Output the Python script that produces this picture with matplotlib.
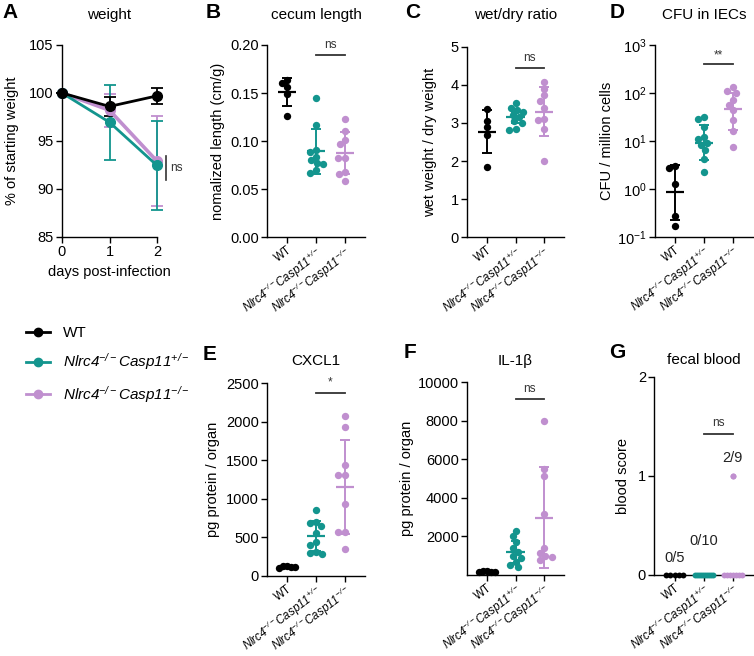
import numpy as np
import matplotlib
matplotlib.use("Agg")
import matplotlib.pyplot as plt
from matplotlib.lines import Line2D
from matplotlib.ticker import NullLocator, FixedLocator

plt.rcParams['font.family'] = ['Liberation Sans', 'DejaVu Sans']
plt.rcParams['mathtext.fontset'] = 'custom'
plt.rcParams['mathtext.rm'] = 'Liberation Sans:italic'
plt.rcParams['mathtext.it'] = 'Liberation Sans:italic'
plt.rcParams['mathtext.sf'] = 'Liberation Sans'
plt.rcParams['mathtext.bf'] = 'Liberation Sans:bold'
plt.rcParams['axes.linewidth'] = 1.0

# ---------------- data ----------------
groups = ["WT", r"$\mathrm{Nlrc4}^{-/-}\mathrm{Casp11}^{+/-}$", r"$\mathrm{Nlrc4}^{-/-}\mathrm{Casp11}^{-/-}$"]
colors = ["#000000", "#13958e", "#c08fcf"]

A_days = [0, 1, 2]
A_wt_mean = [100, 98.6, 99.7]
A_wt_sd = [0, 0.95, 0.85]
A_het_mean = [100, 96.95, 92.45]
A_het_sd = [0, 3.9, 4.65]
A_ko_mean = [100, 98.2, 92.9]
A_ko_sd = [0, 1.7, 4.7]

B_wt = [0.1635, 0.160, 0.156, 0.1487, 0.1265]
B_het = [0.145, 0.117, 0.091, 0.089, 0.084, 0.080, 0.077, 0.076, 0.070, 0.067]
B_ko = [0.123, 0.1106, 0.1012, 0.0967, 0.0822, 0.0822, 0.0683, 0.0655, 0.0586]
B_mean = [0.151, 0.0896, 0.0876]
B_sd = [0.0145, 0.0235, 0.0215]

C_wt = [3.357, 3.058, 2.885, 2.683, 1.852]
C_het = [3.52, 3.40, 3.35, 3.30, 3.22, 3.15, 3.05, 3.00, 2.85, 2.82]
C_ko = [4.08, 3.90, 3.72, 3.58, 3.40, 3.10, 3.08, 2.85, 2.00]
C_mean = [2.77, 3.15, 3.30]
C_sd = [0.57, 0.15, 0.63]

D_wt = [3.0, 2.66, 1.25, 0.27, 0.17]
D_het = [32, 28, 19, 12, 11, 9, 8, 6.4, 4.1, 2.2]
D_ko = [130, 110, 100, 71, 55, 43, 27, 16, 7.3]
D_gmean = [0.85, 9.1, 46]
D_low = [0.22, 4.0, 17]
D_high = [3.2, 21, 98]

E_wt = [130, 120, 115, 110, 105]
E_het = [850, 700, 690, 640, 560, 440, 400, 310, 290, 280]
E_ko = [2076, 1937, 1439, 1309, 1309, 932, 568, 568, 346]
E_mean = [116, 516, 1157]
E_sd = [10, 190, 610]

F_wt = [220, 190, 170, 150, 130]
F_het = [2300, 2000, 1700, 1400, 1200, 1000, 900, 700, 500, 400]
F_ko = [8000, 5500, 5150, 3150, 1400, 1150, 1000, 950, 800]
F_mean = [172, 1210, 2975]
F_sd = [35, 580, 2620]

G_wt = [0, 0, 0, 0, 0]
G_het = [0, 0, 0, 0, 0, 0, 0, 0, 0, 0]
G_ko = [1, 1, 0, 0, 0, 0, 0, 0, 0]
G_frac = ["0/5", "0/10", "2/9"]

# ---------------- figure ----------------
W, H = 754, 656
fig = plt.figure(figsize=(W / 100, H / 100), dpi=100)
TL = 8.3   # group label size
ROT = 37   # group label rotation


def make_ax(left, top, bottom, width):
    return fig.add_axes([left / W, 1 - bottom / H, width / W, (bottom - top) / H])


def style(ax):
    ax.spines['top'].set_visible(False)
    ax.spines['right'].set_visible(False)
    ax.tick_params(direction='out', length=4, width=1.0, labelsize=10.5, pad=2)


def group_labels(ax):
    ax.set_xticks([1, 2, 3])
    ax.set_xticklabels(groups, rotation=ROT, ha='right', va='top', rotation_mode='anchor', fontsize=TL)
    ax.tick_params(axis='x', pad=1.0)


def swarm_offsets(ax, xc, vals, d_px):
    pts = ax.transData.transform(np.column_stack([np.full(len(vals), xc), vals]))
    ys = pts[:, 1]
    ppx = ax.transData.transform([[1, 0]])[0, 0] - ax.transData.transform([[0, 0]])[0, 0]
    placed = []
    offs = np.zeros(len(vals))
    for i in np.argsort(-ys):
        y = ys[i]
        cands = [0.0]
        for (px, py) in placed:
            dy = abs(py - y)
            if dy < d_px:
                dx = np.sqrt(d_px ** 2 - dy ** 2)
                cands += [px + dx, px - dx]
        cands = sorted(cands, key=lambda c: (abs(c), c))
        for c in cands:
            ok = all((c - px) ** 2 + (y - py) ** 2 >= d_px ** 2 - 1e-6 for (px, py) in placed)
            if ok:
                placed.append((c, y))
                offs[i] = c / ppx
                break
    return offs


def scatter_panel(ax, data, means, lo, hi, ylim, log=False, dlist=(6.5, 6.5, 6.5)):
    ax.set_xlim(0.3, 3.7)
    if log:
        ax.set_yscale('log')
    ax.set_ylim(*ylim)
    for i, (vals, c) in enumerate(zip(data, colors)):
        xc = i + 1
        offs = swarm_offsets(ax, xc, vals, dlist[i])
        ax.scatter(xc + offs, vals, s=28, color=c, zorder=3, linewidths=0, clip_on=False)
        ax.hlines(means[i], xc - 0.32, xc + 0.32, color=c, lw=1.6, zorder=4)
        ax.vlines(xc, lo[i], hi[i], color=c, lw=1.4, zorder=4)
        ax.hlines([lo[i], hi[i]], xc - 0.17, xc + 0.17, color=c, lw=1.4, zorder=4)
    style(ax)
    group_labels(ax)


def bracket(ax, y, text, ty):
    ax.plot([2, 3], [y, y], color='#333333', lw=1.3, clip_on=False)
    ax.text(2.5, ty, text, ha='center', va='bottom', fontsize=8.5, color='#333333')


# Panel A
axA = make_ax(62, 45, 237, 95)
axA.set_xlim(0, 2)
axA.set_ylim(85, 105)
for m, sd, c, lw in [(A_ko_mean, A_ko_sd, colors[2], 2.6), (A_het_mean, A_het_sd, colors[1], 2.0),
                     (A_wt_mean, A_wt_sd, colors[0], 2.0)]:
    axA.errorbar(A_days, m, yerr=sd, color=c, lw=lw, marker='o', ms=7, capsize=4, capthick=1.3,
                 elinewidth=1.3, clip_on=False, zorder=3)
axA.set_xticks([0, 1, 2])
axA.set_yticks([85, 90, 95, 100, 105])
axA.set_xlabel("days post-infection", fontsize=10.5, labelpad=4)
axA.set_ylabel("% of starting weight", fontsize=10.5)
axA.plot([2.19, 2.19], [90.95, 93.4], color='#333333', lw=1.2, clip_on=False)
axA.text(2.28, 92.2, "ns", fontsize=8.5, va='center', ha='left', color='#333333')
style(axA)

# Panel B
axB = make_ax(267, 45, 237.3, 98)
scatter_panel(axB, [B_wt, B_het, B_ko], B_mean,
              [m - s for m, s in zip(B_mean, B_sd)], [m + s for m, s in zip(B_mean, B_sd)], (0, 0.2))
axB.set_yticks([0, 0.05, 0.10, 0.15, 0.20])
axB.set_yticklabels(["0.00", "0.05", "0.10", "0.15", "0.20"])
axB.set_ylabel("nomalized length (cm/g)", fontsize=10.5)
bracket(axB, 0.19, "ns", 0.1935)

# Panel C
axC = make_ax(467, 46.7, 237.3, 97)
scatter_panel(axC, [C_wt, C_het, C_ko], C_mean,
              [m - s for m, s in zip(C_mean, C_sd)], [m + s for m, s in zip(C_mean, C_sd)], (0, 5))
axC.set_yticks([0, 1, 2, 3, 4, 5])
axC.set_ylabel("wet weight / dry weight", fontsize=10.5)
bracket(axC, 4.45, "ns", 4.55)

# Panel D
axD = make_ax(655, 45, 236.7, 98)
scatter_panel(axD, [D_wt, D_het, D_ko], D_gmean, D_low, D_high, (0.1, 1000), log=True)
axD.yaxis.set_major_locator(FixedLocator([0.1, 1, 10, 100, 1000]))
axD.yaxis.set_minor_locator(NullLocator())
axD.set_yticklabels([r"$\mathsf{10}^{\mathsf{-1}}$", r"$\mathsf{10}^{\mathsf{0}}$", r"$\mathsf{10}^{\mathsf{1}}$",
                     r"$\mathsf{10}^{\mathsf{2}}$", r"$\mathsf{10}^{\mathsf{3}}$"])
axD.set_ylabel("CFU / million cells", fontsize=10.5)
bracket(axD, 410, "**", 460)

# Panel E
axE = make_ax(267, 383.3, 575.7, 98)
scatter_panel(axE, [E_wt, E_het, E_ko], E_mean,
              [m - s for m, s in zip(E_mean, E_sd)], [m + s for m, s in zip(E_mean, E_sd)], (0, 2500),
              dlist=(4.0, 6.5, 6.5))
axE.set_yticks([0, 500, 1000, 1500, 2000, 2500])
axE.set_ylabel("pg protein / organ", fontsize=10.5)
bracket(axE, 2380, "*", 2430)

# Panel F
axF = make_ax(467, 382.3, 575, 97)
scatter_panel(axF, [F_wt, F_het, F_ko], F_mean,
              [m - s for m, s in zip(F_mean, F_sd)], [m + s for m, s in zip(F_mean, F_sd)], (0, 10000),
              dlist=(4.0, 6.5, 6.5))
axF.set_yticks([2000, 4000, 6000, 8000, 10000])
axF.set_ylabel("pg protein / organ", fontsize=10.5)
bracket(axF, 9130, "ns", 9330)

# Panel G
axG = make_ax(654.3, 376.7, 575, 99)
axG.set_xlim(0.3, 3.7)
axG.set_ylim(0, 2)
for i, (vals, c) in enumerate(zip([G_wt, G_het, G_ko], colors)):
    xc = i + 1
    vals = np.array(vals, dtype=float)
    zero = vals == 0
    nz = zero.sum()
    offs = np.linspace(-0.3, 0.3, nz) if nz > 1 else np.zeros(nz)
    axG.scatter(xc + offs, vals[zero], s=18, color=c, zorder=3, linewidths=0, clip_on=False)
    ones = vals[~zero]
    if len(ones):
        axG.scatter(np.full(len(ones), xc), ones, s=18, color=c, zorder=3, linewidths=0, clip_on=False)
for i, (t, y) in enumerate(zip(G_frac, [0.17, 0.34, 1.18])):
    axG.text(i + 1, y, t, ha='center', va='center', fontsize=10.5, color='#222222')
axG.set_yticks([0, 1, 2])
axG.set_ylabel("blood score", fontsize=10.5)
bracket(axG, 1.42, "ns", 1.47)
style(axG)
group_labels(axG)

# y label positions
for ax, xpos in [(axA, -0.53), (axB, -0.50), (axC, -0.38), (axD, -0.49),
                 (axE, -0.55), (axF, -0.62), (axG, -0.32)]:
    ax.yaxis.set_label_coords(xpos, 0.5)
    ax.yaxis.label.set_va('center')

# titles
titles = [(axA, "weight", 15), (axB, "cecum length", 15), (axC, "wet/dry ratio", 15),
          (axD, "CFU in IECs", 15), (axE, "CXCL1", 361), (axF, "IL-1β", 361), (axG, "fecal blood", 360)]
for ax, t, ypx in titles:
    bb = ax.get_position()
    fig.text((bb.x0 + bb.x1) / 2, 1 - ypx / H, t, ha='center', va='center', fontsize=11)

# panel letters
letters = [("A", 10, 12), ("B", 213, 12), ("C", 413, 12), ("D", 617, 12),
           ("E", 210, 355), ("F", 410, 353), ("G", 617, 353)]
for l, x, y in letters:
    fig.text(x / W, 1 - y / H, l, ha='center', va='center', fontsize=15, fontweight='bold')

# legend
handles = [Line2D([0], [0], color=c, lw=2, marker='o', ms=6) for c in colors]
fig.legend(handles, groups, loc='upper left', bbox_to_anchor=(26 / W, 1 - 326 / H), frameon=False,
           fontsize=11, handlelength=1.6, handletextpad=0.8, labelspacing=0.75,
           borderpad=0, borderaxespad=0)

fig.savefig("out.png", dpi=100)
